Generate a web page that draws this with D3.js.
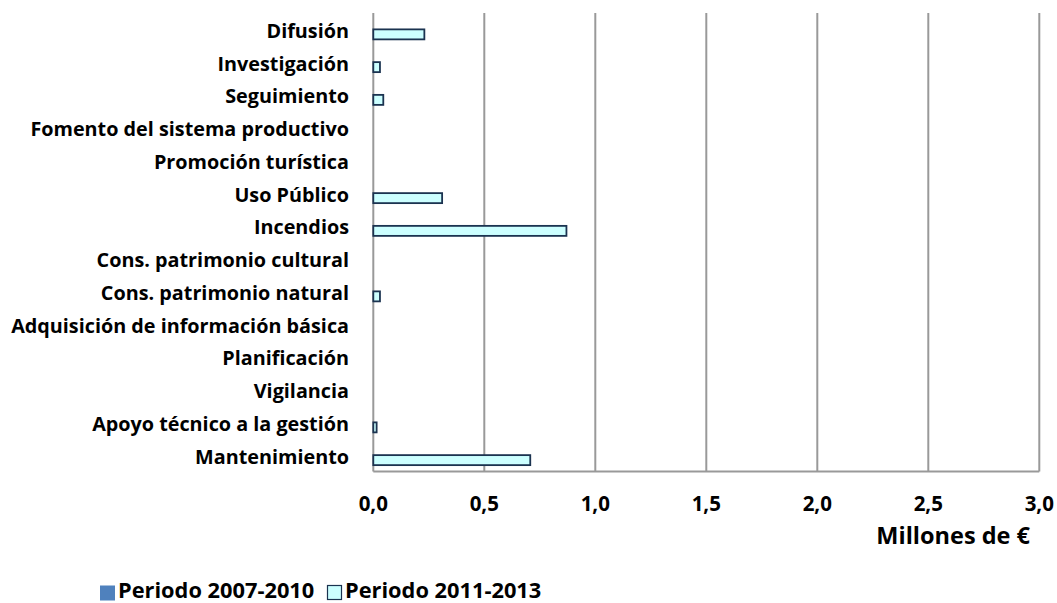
<!DOCTYPE html>
<html><head><meta charset="utf-8">
<script src="https://cdn.jsdelivr.net/npm/d3@7"></script>
<style>body{margin:0;background:#fff}svg{display:block}text{font-family:"Open Sans",sans-serif;font-weight:bold;fill:#000}</style>
</head><body><svg id="c" width="1057" height="603"></svg>
<script>
const categories = ["Difusión","Investigación","Seguimiento","Fomento del sistema productivo","Promoción turística","Uso Público","Incendios","Cons. patrimonio cultural","Cons. patrimonio natural","Adquisición de información básica","Planificación","Vigilancia","Apoyo técnico a la gestión","Mantenimiento"];
const seriesNames = ["Periodo 2007-2010","Periodo 2011-2013"];
const values2007 = [0,0,0,0,0,0,0,0,0,0,0,0,0,0];
const values2011 = [0.23,0.03,0.045,0,0,0.31,0.87,0,0.03,0,0,0,0.015,0.707];
const xTicks = [0,0.5,1,1.5,2,2.5,3];
const xTitle = "Millones de €";

const svg = d3.select("#c");
const L = 373.3, R = 1039.3, T = 13, B = 471.5;
const x = d3.scaleLinear().domain([0,3]).range([L,R]);
const y = d3.scaleBand().domain(categories).range([T,B]).paddingInner(0).paddingOuter(0);
const ys = d3.scaleBand().domain(seriesNames).range([0,y.bandwidth()]).paddingInner(0).paddingOuter(0.6375);
const fills = ["#4F81BD","#CCFFFF"];
const strokes = ["none","#1B3350"];
const fmt = d => d.toFixed(1).replace(".", ",");

svg.append("g").selectAll("line").data(xTicks).join("line")
  .attr("x1", d=>x(d)).attr("x2", d=>x(d)).attr("y1", T).attr("y2", B)
  .attr("stroke", "#999").attr("stroke-width", 2);
svg.append("line").attr("x1", L).attr("x2", R).attr("y1", B).attr("y2", B)
  .attr("stroke", "#999").attr("stroke-width", 2);

const data = [];
categories.forEach((c,i)=>{
  data.push({c, s:seriesNames[0], v:values2007[i], k:0});
  data.push({c, s:seriesNames[1], v:values2011[i], k:1});
});
svg.append("g").selectAll("rect").data(data.filter(d=>d.v>0)).join("rect")
  .attr("x", x(0)).attr("y", d=>y(d.c)+ys(d.s))
  .attr("width", d=>x(d.v)-x(0)).attr("height", ys.bandwidth())
  .attr("fill", d=>fills[d.k]).attr("stroke", d=>strokes[d.k]).attr("stroke-width", 1.8);

svg.append("g").selectAll("text").data(categories).join("text")
  .attr("x", 349).attr("y", d=>y(d)+y.bandwidth()/2+1).attr("text-anchor","end")
  .attr("dominant-baseline","central").style("font-size","19.8px").text(d=>d);

svg.append("g").selectAll("text").data(xTicks).join("text")
  .attr("x", d=>x(d)).attr("y", 503).attr("text-anchor","middle")
  .attr("dominant-baseline","central").style("font-size","20.5px").text(fmt);

svg.append("text").attr("x", 1030).attr("y", 535).attr("text-anchor","end")
  .attr("dominant-baseline","central").style("font-size","23.5px").text(xTitle);

const leg = [{x:100, tx:118},{x:327, tx:345}];
seriesNames.forEach((s,i)=>{
  svg.append("rect").attr("x", leg[i].x+(i?0.5:0)).attr("y", 585.5).attr("width", i?14:15).attr("height", i?14:15)
    .attr("fill", fills[i]).attr("stroke", i?strokes[i]:"none").attr("stroke-width", 1.2);
  svg.append("text").attr("x", leg[i].tx).attr("y", 589.5).attr("dominant-baseline","central")
    .style("font-size","21.8px").text(s);
});
</script></body></html>
